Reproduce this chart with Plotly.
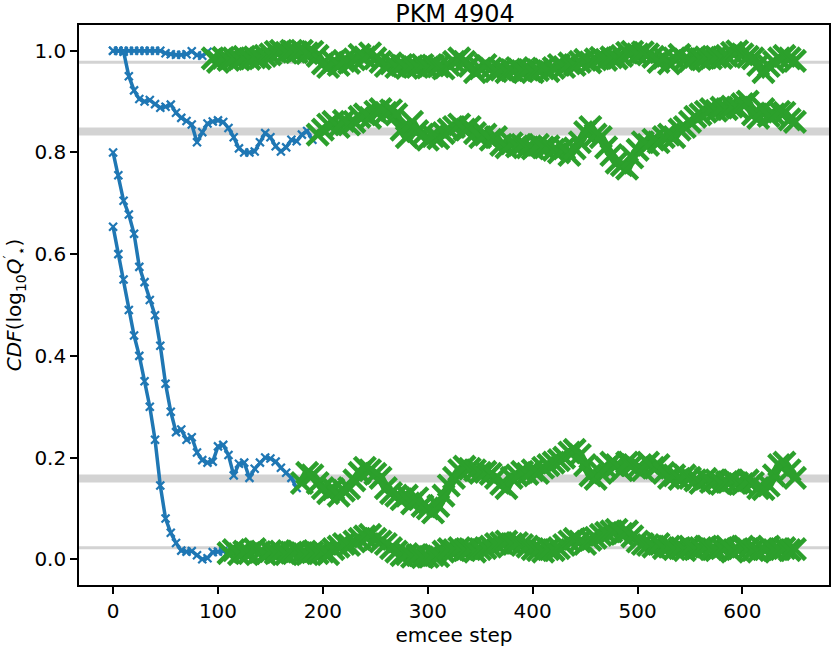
# PKM 4904 - emcee chain CDF traces
import plotly.graph_objects as go

# emcee step grid (every 5th step)
steps = list(range(0, 651, 5))

# 0.977 quantile
q977 = [
    1.0, 1.0, 1.0, 1.0, 1.0, 1.0, 1.0, 1.0, 1.0, 1.0,
    0.995, 0.993, 0.992, 0.992, 0.993, 0.999, 0.991, 0.990, 0.998, 0.985,
    0.978, 0.986, 0.982, 0.985, 0.983, 0.988, 0.984, 0.987, 0.985, 0.990,
    0.993, 0.998, 1.000, 0.996, 1.000, 0.997, 1.000, 0.995, 0.998, 0.990,
    0.975, 0.968, 0.978, 0.972, 0.980, 0.976, 0.983, 0.992, 0.987, 0.995,
    0.985, 0.978, 0.970, 0.975, 0.968, 0.972, 0.966, 0.970, 0.968, 0.972,
    0.967, 0.971, 0.969, 0.965, 0.972, 0.978, 0.985, 0.978, 0.970, 0.958,
    0.965, 0.972, 0.965, 0.960, 0.963, 0.958, 0.962, 0.966, 0.960, 0.963,
    0.958, 0.962, 0.965, 0.960, 0.966, 0.972, 0.968, 0.975, 0.972, 0.978,
    0.982, 0.977, 0.983, 0.986, 0.982, 0.987, 0.985, 0.990, 0.996, 0.998,
    0.993, 0.997, 0.993, 0.988, 0.978, 0.986, 0.975, 0.985, 0.992, 0.983,
    0.980, 0.988, 0.984, 0.987, 0.985, 0.988, 0.986, 0.990, 0.996, 0.999,
    0.993, 0.988, 0.985, 0.972, 0.958, 0.970, 0.978, 0.985, 0.990, 0.985, 0.980,
]

# 0.841 quantile
q841 = [
    1.000, 1.000, 0.998, 0.950, 0.922, 0.905, 0.900, 0.903, 0.895, 0.888,
    0.890, 0.894, 0.878, 0.868, 0.862, 0.855, 0.820, 0.840, 0.857, 0.861,
    0.863, 0.860, 0.848, 0.830, 0.808, 0.800, 0.800, 0.802, 0.820, 0.838,
    0.830, 0.812, 0.802, 0.810, 0.825, 0.822, 0.835, 0.842, 0.825, 0.835,
    0.845, 0.855, 0.860, 0.850, 0.862, 0.855, 0.860, 0.870, 0.875, 0.868,
    0.880, 0.885, 0.878, 0.883, 0.875, 0.845, 0.830, 0.860, 0.842, 0.835,
    0.825, 0.832, 0.828, 0.838, 0.845, 0.850, 0.855, 0.845, 0.850, 0.838,
    0.830, 0.835, 0.825, 0.830, 0.815, 0.810, 0.818, 0.812, 0.815, 0.810,
    0.808, 0.815, 0.810, 0.812, 0.805, 0.800, 0.808, 0.795, 0.808, 0.820,
    0.840, 0.850, 0.835, 0.830, 0.810, 0.795, 0.780, 0.775, 0.768, 0.790,
    0.805, 0.820, 0.815, 0.825, 0.820, 0.830, 0.835, 0.830, 0.845, 0.850,
    0.860, 0.870, 0.875, 0.880, 0.885, 0.882, 0.888, 0.885, 0.890, 0.888,
    0.895, 0.900, 0.875, 0.868, 0.885, 0.872, 0.875, 0.880, 0.878, 0.865, 0.860,
]

# 0.159 quantile
q159 = [
    0.800, 0.755, 0.705, 0.678, 0.640, 0.575, 0.545, 0.510, 0.480, 0.420,
    0.345, 0.290, 0.250, 0.255, 0.235, 0.240, 0.210, 0.195, 0.190, 0.192,
    0.222, 0.225, 0.205, 0.165, 0.188, 0.190, 0.160, 0.178, 0.190, 0.200,
    0.198, 0.192, 0.180, 0.170, 0.160, 0.140, 0.150, 0.170, 0.165, 0.150,
    0.140, 0.130, 0.138, 0.125, 0.135, 0.140, 0.155, 0.170, 0.180, 0.175,
    0.168, 0.160, 0.140, 0.130, 0.125, 0.118, 0.125, 0.110, 0.120, 0.105,
    0.100, 0.092, 0.105, 0.125, 0.145, 0.160, 0.175, 0.182, 0.178, 0.175,
    0.170, 0.172, 0.168, 0.160, 0.148, 0.140, 0.160, 0.165, 0.172, 0.168,
    0.175, 0.170, 0.180, 0.185, 0.190, 0.195, 0.200, 0.210, 0.215, 0.205,
    0.185, 0.165, 0.158, 0.170, 0.180, 0.190, 0.185, 0.175, 0.190, 0.185,
    0.180, 0.175, 0.190, 0.180, 0.185, 0.170, 0.160, 0.165, 0.158, 0.165,
    0.160, 0.155, 0.150, 0.158, 0.152, 0.155, 0.148, 0.152, 0.155, 0.150,
    0.148, 0.155, 0.150, 0.140, 0.138, 0.145, 0.165, 0.185, 0.190, 0.175, 0.160,
]

# 0.023 quantile
q023 = [
    0.654, 0.600, 0.550, 0.490, 0.440, 0.400, 0.350, 0.300, 0.235, 0.145,
    0.080, 0.052, 0.032, 0.017, 0.015, 0.016, 0.008, 0.000, 0.002, 0.014,
    0.015, 0.016, 0.012, 0.018, 0.010, 0.015, 0.012, 0.020, 0.014, 0.010,
    0.016, 0.012, 0.015, 0.010, 0.013, 0.016, 0.012, 0.010, 0.014, 0.012,
    0.015, 0.010, 0.020, 0.025, 0.030, 0.028, 0.035, 0.040, 0.045, 0.048,
    0.040, 0.035, 0.030, 0.022, 0.015, 0.008, 0.010, 0.005, 0.008, 0.004,
    0.005, 0.008, 0.006, 0.015, 0.020, 0.018, 0.022, 0.018, 0.020, 0.015,
    0.020, 0.022, 0.025, 0.030, 0.032, 0.035, 0.030, 0.032, 0.028, 0.025,
    0.020, 0.018, 0.015, 0.020, 0.018, 0.022, 0.028, 0.035, 0.040, 0.035,
    0.030, 0.038, 0.042, 0.048, 0.052, 0.055, 0.058, 0.050, 0.055, 0.045,
    0.035, 0.030, 0.028, 0.025, 0.030, 0.022, 0.025, 0.020, 0.022, 0.018,
    0.025, 0.020, 0.022, 0.025, 0.020, 0.018, 0.022, 0.025, 0.015, 0.020,
    0.025, 0.020, 0.018, 0.015, 0.020, 0.025, 0.018, 0.020, 0.022, 0.018, 0.020,
]

# step at which each chain is considered converged (green from there on)
burn_in = {"q977": 95, "q841": 195, "q159": 180, "q023": 110}

# reference levels: 2-sigma (thin) and 1-sigma (thick)
levels = [0.97725, 0.84134, 0.15866, 0.02275]
level_widths = [3, 8, 8, 3]

BLUE = "#1f77b4"
GREEN = "#2ca02c"
FONT = "DejaVu Sans"

fig = go.Figure()

for lev, w in zip(levels, level_widths):
    fig.add_shape(type="line", xref="paper", yref="y", x0=0, x1=1, y0=lev, y1=lev,
                  line=dict(color="lightgray", width=w), layer="below")

series = {"q977": q977, "q841": q841, "q159": q159, "q023": q023}

# burn-in part (blue, small crosses)
for name, vals in series.items():
    n = steps.index(burn_in[name]) + 1
    fig.add_trace(go.Scatter(
        x=steps[:n], y=vals[:n], mode="lines+markers",
        line=dict(color=BLUE, width=3.5),
        marker=dict(symbol="x-thin", size=8, line=dict(color=BLUE, width=2.2)),
        showlegend=False, hoverinfo="skip"
    ))

# converged part (green, big crosses)
for name, vals in series.items():
    n = steps.index(burn_in[name])
    fig.add_trace(go.Scatter(
        x=steps[n:], y=vals[n:], mode="lines+markers",
        line=dict(color=GREEN, width=9),
        marker=dict(symbol="x-thin", size=21, line=dict(color=GREEN, width=4.5)),
        showlegend=False, hoverinfo="skip"
    ))

axis_style = dict(
    showline=True, mirror=True, linecolor="black", linewidth=1.6,
    ticks="outside", ticklen=7, tickwidth=1.6, tickcolor="black",
    showgrid=False, zeroline=False, automargin=False,
    tickfont=dict(family=FONT, size=20, color="black"),
)

fig.update_xaxes(range=[-32.5, 682.5], tickvals=[0, 100, 200, 300, 400, 500, 600],
                 title=dict(text="emcee step", font=dict(family=FONT, size=20), standoff=4),
                 **axis_style)
fig.update_yaxes(range=[-0.0506, 1.0506], tickvals=[0.0, 0.2, 0.4, 0.6, 0.8, 1.0], tickformat=".1f",
                 title=dict(text="<i>CDF</i>(log<sub>10</sub><i>Q</i><sup>′</sup><sub>⋆</sub>)",
                            font=dict(family=FONT, size=20), standoff=8),
                 **axis_style)

fig.update_layout(
    width=831, height=649,
    margin=dict(l=79, r=2, t=25, b=64),
    plot_bgcolor="white", paper_bgcolor="white",
    title=dict(text="PKM 4904", x=0.5475, xanchor="center", y=0.979, yanchor="middle",
               font=dict(family=FONT, size=24, color="black")),
    font=dict(family=FONT, color="black"),
)

# page body has a default margin; drop it so the figure sits at the window corner
fig.write_html("out.html", config={"displayModeBar": False},
               post_script="document.body.style.margin='0px';")
